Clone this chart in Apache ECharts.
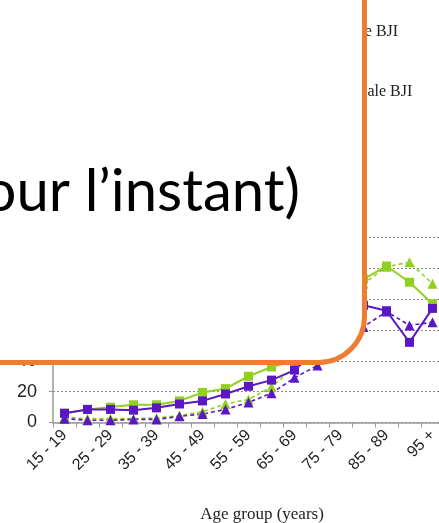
<!DOCTYPE html>
<html>
<head>
<meta charset="utf-8">
<script src="https://cdn.jsdelivr.net/npm/echarts@6/dist/echarts.min.js"></script>
<style>
  html, body { margin: 0; padding: 0; background: #fff; overflow: hidden; }
  #chart { width: 439px; height: 523px; }
</style>
</head>
<body>
<div id="chart"></div>
<script>
// age groups, labels shown every other one
const ageGroups = ['15 - 19', '20 - 24', '25 - 29', '30 - 34', '35 - 39', '40 - 44', '45 - 49', '50 - 54',
  '55 - 59', '60 - 64', '65 - 69', '70 - 74', '75 - 79', '80 - 84', '85 - 89', '90 - 94', '95 +']

// solid lines, squares
const maleSolid = [6, 8.5, 10, 11.5, 11.5, 14, 19.5, 22, 30, 36, 40, 58, 78, 93, 101.5, 91, 77]
const femaleSolid = [6, 8.5, 8.5, 8, 9.5, 12, 14, 18.5, 23.5, 27.5, 34, 47, 63, 76, 72.5, 52, 74]
// dashed lines, triangles
const maleDashed = [3.5, 2.5, 2.5, 2.5, 3, 4.5, 7, 12, 15, 23, 36, 52, 72, 90, 101, 104, 90]
const femaleDashed = [2.5, 1.5, 1.5, 2, 2, 4, 5.5, 8.5, 13, 19, 29, 37, 50, 62, 72, 63, 65]

const GREEN = '#8fd11c'
const PURPLE = '#5c17c4'

const chart = echarts.init(document.getElementById('chart'))

function lineSeries(name, data, color, dashed) {
  return {
    name, type: 'line', data,
    symbol: dashed ? 'triangle' : 'rect',
    symbolSize: dashed ? 10 : 9,
    lineStyle: { color, width: dashed ? 1.6 : 2, type: dashed ? [4, 3] : 'solid' },
    itemStyle: { color },
    animation: false
  }
}

chart.setOption({
  animation: false,
  grid: { left: 53, right: -5, top: 237.5, bottom: 100.5, outerBoundsMode: 'none' },
  legend: {
    data: ['Male BJI', 'Female BJI'],
    orient: 'vertical', left: 303, top: 18,
    itemWidth: 25, itemHeight: 12, itemGap: 43,
    textStyle: { fontFamily: 'Liberation Serif', fontSize: 16, color: '#222', lineHeight: 17 }
  },
  xAxis: {
    type: 'category', data: ageGroups, boundaryGap: true,
    axisLine: { lineStyle: { color: '#999', width: 1.5 } },
    axisTick: { show: true, length: 5, interval: 0, lineStyle: { color: '#999' } },
    axisLabel: {
      interval: 1, rotate: 45, margin: 10,
      fontFamily: 'Liberation Sans', fontSize: 16, color: '#222'
    },
    name: 'Age group (years)', nameLocation: 'middle', nameGap: 84,
    nameTextStyle: { fontFamily: 'Liberation Serif', fontSize: 17, color: '#222', padding: [0, 0, 0, 27] }
  },
  yAxis: {
    type: 'value', min: 0, max: 120, interval: 20,
    axisLine: { show: true, lineStyle: { color: '#999', width: 1.5 } },
    axisTick: { show: true, length: 4, lineStyle: { color: '#999' } },
    axisLabel: { margin: 16, fontFamily: 'Liberation Sans', fontSize: 18, color: '#222' },
    splitLine: { lineStyle: { color: '#888', type: [2, 2], width: 1 } }
  },
  series: [
    lineSeries('Male BJI', maleSolid, GREEN, false),
    lineSeries('Male BJI (▲)', maleDashed, GREEN, true),
    lineSeries('Female BJI', femaleSolid, PURPLE, false),
    lineSeries('Female BJI (▲)', femaleDashed, PURPLE, true)
  ],
  // slide callout covering the upper-left part of the chart
  graphic: [
    {
      type: 'rect', z: 100,
      shape: { x: -10, y: -10, width: 374.5, height: 372.5, r: [0, 0, 46, 0] },
      style: { fill: '#fff', stroke: '#ed7d31', lineWidth: 5 }
    },
    {
      type: 'text', z: 101, x: 300, y: 221,
      style: {
        text: '(pour l’instant)', fill: '#000',
        font: '58px "Lato"', textAlign: 'right', textVerticalAlign: 'bottom'
      }
    }
  ]
})
window.addEventListener('resize', () => chart.resize())
</script>
</body>
</html>
